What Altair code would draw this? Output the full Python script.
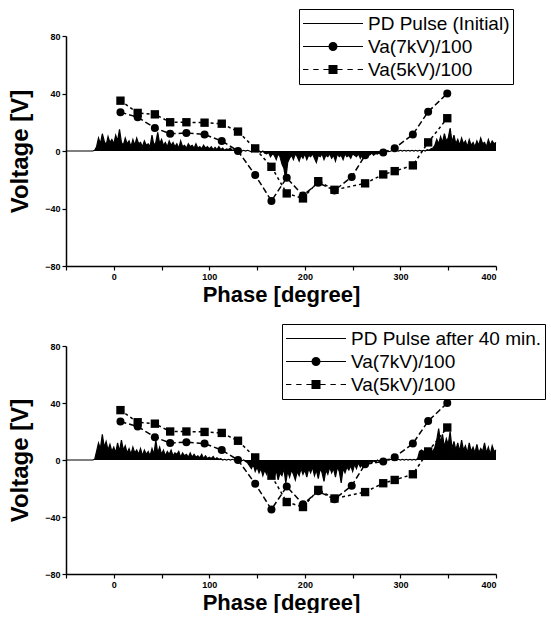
import altair as alt
import pandas as pd

FONT = "Liberation Sans"

# ---- Data ----
phase_7kv = [7, 25, 43, 59, 76, 95, 113, 130, 148, 165, 181, 198, 214, 231, 249, 263, 282, 294, 313, 329, 349]
va_7kv = [27, 23.5, 16, 12, 12.5, 11.5, 7, 0, -16.7, -34.7, -18.6, -31, -22, -27.5, -18, -3, -1, 2, 11.5, 27.3, 40]

phase_5kv = [7, 25, 43, 59, 76, 95, 113, 130, 148, 165, 181, 198, 214, 231, 263, 282, 294, 313, 329, 349]
va_5kv = [35, 26.5, 25.5, 20, 20, 19.7, 19, 13.5, 1.8, -11, -29.5, -33, -21, -27, -22.5, -16.3, -14, -10, 6, 22.8]

pulse_phase = [
    -50, -40, -30, -22,
    -20, -18, -16, -14, -12, -10, -8, -6, -4, -2,
    0, 2, 4, 6, 8, 10, 12, 14, 16, 18,
    20, 22, 24, 26, 28, 30, 32, 34, 36, 38,
    40, 42, 44, 46, 48, 50, 52, 54, 56, 58,
    60, 62, 64, 66, 68, 70, 72, 74, 76, 78,
    80, 82, 84, 86, 88, 90, 92, 94, 96, 98,
    100, 102, 104, 106, 108, 110, 112, 114, 116, 118,
    120, 122, 124, 126, 128, 130, 132, 134, 136, 138,
    140, 142, 144, 146, 148, 150, 152, 154, 156, 158,
    160, 162, 164, 166, 168, 170, 172, 174, 176, 178,
    180, 182, 184, 186, 188, 190, 192, 194, 196, 198,
    200, 202, 204, 206, 208, 210, 212, 214, 216, 218,
    220, 222, 224, 226, 228, 230, 232, 234, 236, 238,
    240, 242, 244, 246, 248, 250, 252, 254, 256, 258,
    260, 262, 264, 266, 268, 270, 272, 274, 276, 278,
    280, 282, 284, 286, 288, 290, 292, 294, 296, 298,
    300, 302, 304, 306, 308, 310, 312, 314, 316, 318,
    320, 322, 324, 326, 328, 330, 332, 334, 336, 338,
    340, 342, 344, 346, 348, 350, 352, 354, 356, 358,
    360, 362, 364, 366, 368, 370, 372, 374, 376, 378,
    380, 382, 384, 386, 388, 390, 392, 394, 396, 398,
    400]

pulse_initial = [
    0, 0, 0, 0,
    0.5, 3, 9, 5, 12, 7, 4, 10, 6, 8,
    5, 11, 7, 15, 6, 4, 9, 5, 7, 3,
    8, 4, 9, 5, 6, 3, 7, 4, 5, 3,
    11, 4, 6, 13, 5, 8, 4, 6, 3, 7,
    4, 6, 3, 5, 2, 7, 3, 4, 2, 5,
    3, 4, 2, 5, 2, 3, 1.5, 4, 2, 3,
    1.5, 3, 1, 2.5, 1, 3, 1, 2, 0.5, 1.5,
    1, 2, 0.5, 1, 0, 1, 0.5, 0, 0.5, 0,
    0.5, 0, -0.5, 0.5, 0, -0.5, 0, -1, 0, -1.5,
    -2, -1, -4, -2, -3, -6, -2, -4, -9, -12,
    -20, -8, -5, -3, -6, -2, -4, -7, -3, -5,
    -2, -6, -3, -4, -2, -5, -8, -3, -4, -2,
    -6, -3, -4, -2, -5, -3, -7, -2, -4, -3,
    -6, -2, -4, -3, -5, -2, -3, -4, -2, -5,
    -2, -3, -1, -4, -2, -1.5, -3, -1, -2, -1,
    -1.5, -0.5, -1, 0, -0.5, 0, 0.5, 0, 0.5, 0,
    0.5, 0, 0.5, 0, 0.5, 0, 0.5, 0, 0.5, 0,
    0.5, 0, 0.5, 0, 1, 0.5, 1.5, 2, 4, 8,
    5, 10, 6, 12, 7, 9, 16, 6, 11, 5,
    8, 4, 9, 5, 7, 3, 8, 4, 6, 3,
    7, 4, 9, 5, 6, 3, 8, 4, 7, 5,
    6]

pulse_40min = [
    0, 0, 0, 0,
    0.5, 6, 12, 8, 18, 9, 13, 7, 11, 6,
    9, 5, 12, 6, 14, 7, 10, 5, 8, 4,
    9, 5, 7, 4, 8, 3, 7, 4, 6, 3,
    8, 4, 14, 5, 9, 4, 7, 3, 6, 4,
    7, 3, 5, 4, 6, 2, 5, 3, 4, 2,
    5, 2, 4, 2, 3, 1.5, 4, 1, 3, 1,
    2, 1, 2.5, 0.5, 1.5, 0.5, 1, 0, 0.5, 0,
    0.5, 0, 0.5, 0, 0, 0.5, 0, -0.5, 0, -1,
    -2, -4, -6, -3, -8, -5, -9, -6, -11, -7,
    -10, -6, -13, -8, -12, -7, -14, -9, -11, -6,
    -16, -8, -12, -7, -10, -14, -8, -11, -6, -10,
    -7, -12, -6, -9, -5, -11, -7, -13, -6, -9,
    -15, -7, -10, -5, -9, -6, -12, -5, -8, -16,
    -6, -9, -5, -7, -4, -8, -3, -6, -2, -5,
    -3, -4, -1.5, -3, -1, -2, -0.5, -1.5, 0, -1,
    0, -0.5, 0, 0.5, 0, 0.5, 0, 0.5, 0, 0.5,
    0, 0.5, 0, 0.5, 0, 0.5, 0, 0.5, 0, 1,
    6, 7, 6, 7, 6, 8, 7, 6, 9, 14,
    22, 12, 18, 9, 15, 11, 20, 8, 13, 7,
    12, 6, 14, 7, 10, 5, 12, 6, 9, 5,
    11, 5, 8, 6, 12, 5, 9, 4, 10, 6,
    7]

series_top = ["PD Pulse (Initial)", "Va(7kV)/100", "Va(5kV)/100"]
series_bottom = ["PD Pulse after 40 min.", "Va(7kV)/100", "Va(5kV)/100"]


# legend symbols drawn with strokes only (line, line + dot, dashed line + square)
def _circles(radii):
    return "".join(f"M{r},0A{r},{r},0,1,1,{-r},0A{r},{r},0,1,1,{r},0" for r in radii)


def _squares(halves):
    return "".join(f"M{-h},{-h}H{h}V{h}H{-h}Z" for h in halves)


RADII = [0.13, 0.1, 0.07, 0.04, 0.015]
SYM_LINE = "M-1,0H1"
SYM_CIRCLE = "M-1,0H1" + _circles(RADII)
SYM_SQUARE = ("M-1,0H-0.82M-0.66,0H-0.48M-0.32,0H-0.15M0.15,0H0.32M0.48,0H0.66M0.82,0H1"
              + _squares(RADII))

X_DOMAIN = [-50, 400]
Y_DOMAIN = [-80, 80]
X_TICKS = [-50, 0, 50, 100, 150, 200, 250, 300, 350, 400]
Y_TICKS = [-80, -60, -40, -20, 0, 20, 40, 60, 80]


def panel(pulse_vals, names, h, lx, ly, tpad):
    xs = alt.Scale(domain=X_DOMAIN, nice=False, zero=False)
    ys = alt.Scale(domain=Y_DOMAIN, nice=False)
    xax = alt.Axis(values=X_TICKS, labelExpr="datum.value % 100 === 0 ? datum.label : ''",
                   title="Phase [degree]", titlePadding=tpad, titleFontSize=22)
    yax = alt.Axis(values=Y_TICKS, labelExpr="datum.value % 40 === 0 ? datum.label : ''",
                   title="Voltage [V]", titlePadding=12, titleFontSize=24)

    pdf = pd.DataFrame({"phase": pulse_phase, "v": pulse_vals})
    d7 = pd.DataFrame({"phase": phase_7kv, "v": va_7kv})
    d5 = pd.DataFrame({"phase": phase_5kv, "v": va_5kv})
    leg = pd.DataFrame({"series": names, "phase": [1000, 1000, 1000], "v": [0, 0, 0]})

    x = alt.X("phase:Q", scale=xs, axis=xax)
    y = alt.Y("v:Q", scale=ys, axis=yax)
    xn = alt.X("phase:Q", scale=xs)
    yn = alt.Y("v:Q", scale=ys)

    area = alt.Chart(pdf).mark_area(color="black", interpolate="linear").encode(x=x, y=y)
    pline = alt.Chart(pdf).mark_line(color="black", strokeWidth=1.2).encode(x=xn, y=yn)
    l7 = alt.Chart(d7).mark_line(color="black", strokeWidth=1.5, strokeDash=[6, 3]).encode(x=xn, y=yn)
    p7 = alt.Chart(d7).mark_point(shape="circle", filled=True, color="black", size=64, opacity=1).encode(x=xn, y=yn)
    l5 = alt.Chart(d5).mark_line(color="black", strokeWidth=1.5, strokeDash=[3, 3]).encode(x=xn, y=yn)
    p5 = alt.Chart(d5).mark_point(shape="square", filled=True, color="black", size=70, opacity=1).encode(x=xn, y=yn)
    lg = alt.Chart(leg).mark_point(filled=False, color="black", strokeWidth=1.2,
                                   clip=True, size=3600).encode(
        x=xn, y=yn,
        shape=alt.Shape("series:N",
                        scale=alt.Scale(domain=names, range=[SYM_LINE, SYM_CIRCLE, SYM_SQUARE]),
                        legend=alt.Legend(title=None, orient="none", legendX=lx, legendY=ly,
                                          strokeColor="black", fillColor="white", padding=3,
                                          symbolSize=3600, symbolStrokeWidth=1.2,
                                          symbolStrokeColor="black",
                                          symbolOpacity=1, labelFont=FONT, labelFontSize=19,
                                          labelColor="black", labelLimit=400, labelOffset=4,
                                          clipHeight=23, rowPadding=0)))
    return alt.layer(area, pline, l7, l5, p7, p5, lg).properties(width=430, height=h)


top = panel(pulse_initial, series_top, 230, 233, -27, 3)
bottom = panel(pulse_40min, series_bottom, 228, 216, -22, 3)

chart = alt.vconcat(top, bottom, spacing=80, bounds="flush").properties(
    padding={"left": 8, "top": 8, "right": 0, "bottom": 0}
).configure_view(stroke=None).configure_axis(
    grid=False, domainColor="black", domainWidth=1.5, tickColor="black", tickWidth=1.2,
    tickSize=4, labelFont=FONT, labelFontSize=9, labelFontWeight="bold", labelColor="black",
    labelPadding=2, titleFont=FONT, titleFontWeight="bold", titleColor="black"
).resolve_scale(shape="independent")

chart.save("out.html", embed_options={"renderer": "svg", "actions": False})
